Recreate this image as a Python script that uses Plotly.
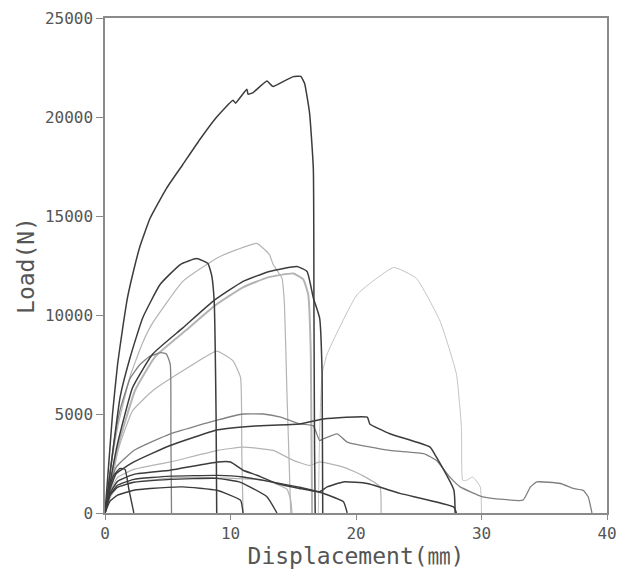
import plotly.graph_objects as go

# ---- tick labels ----
x_ticks = [0, 10, 20, 30, 40]
y_ticks = [0, 5000, 10000, 15000, 20000, 25000]

# ---- curves (displacement mm, load N) ----
d1_x = [0, 0.3, 0.6, 1.0, 1.4, 1.8, 2.3, 2.8, 3.6, 4.9, 6.2, 7.6, 8.9, 10.2, 10.4, 11.3, 11.4, 11.8, 12.9, 13.3, 13.4, 15.0, 15.6, 15.9, 16.3, 16.6, 16.65, 16.7, 16.75]
d1_y = [0, 2500, 5000, 7500, 9300, 10900, 12300, 13500, 14900, 16400, 17600, 18900, 20000, 20850, 20700, 21400, 21150, 21235, 21820, 21570, 21540, 22040, 22050, 21700, 20200, 17400, 10000, 3000, 0]

d2_x = [0, 0.3, 0.7, 1.2, 2.0, 3.0, 4.4, 6.0, 7.3, 8.2, 8.5, 8.7, 8.85, 8.9]
d2_y = [0, 1500, 3500, 5840, 7850, 9850, 11550, 12550, 12850, 12600, 12000, 10700, 5000, 0]

d3_x = [0, 0.4, 1.0, 2.2, 3.8, 6.2, 8.6, 11.0, 13.1, 15.3, 16.1, 16.6, 17.1, 17.3, 17.35]
d3_y = [0, 1500, 3500, 6340, 8030, 9350, 10690, 11700, 12200, 12450, 12200, 10860, 9850, 7000, 0]

m1_x = [0, 0.3, 0.7, 1.2, 2.0, 2.8, 3.6, 4.5, 4.9, 5.2, 5.25, 5.3]
m1_y = [0, 1500, 3500, 5200, 6800, 7510, 7930, 8100, 8020, 7510, 4000, 0]

l1_x = [0, 0.4, 1.0, 2.0, 3.0, 3.8, 6.2, 8.9, 10.5, 12.1, 13.1, 13.4, 14.1, 14.3, 14.5, 14.7, 14.8]
l1_y = [0, 2000, 4300, 6900, 8600, 9600, 11700, 12870, 13300, 13620, 13050, 12550, 11860, 10500, 6000, 2000, 0]

l2_x = [0, 0.5, 1.2, 2.2, 3.8, 6.2, 8.9, 10.2, 10.8, 10.9, 11.0]
l2_y = [0, 1800, 3500, 5170, 6170, 7180, 8180, 7680, 6840, 3000, 0]

l3_x = [17.0, 17.1, 17.3, 17.7, 20.1, 23.0, 24.8, 26.7, 28.0, 28.4, 28.5, 28.8, 29.3, 29.9, 30.0]
l3_y = [0, 4000, 7030, 8030, 11040, 12400, 11860, 9690, 7030, 4330, 1650, 1650, 1820, 1320, 0]

l6_x = [0, 0.5, 1.1, 2.4, 4.0, 6.4, 8.8, 11.0, 13.0, 15.0, 15.8, 16.2, 16.4, 16.5]
l6_y = [0, 1500, 3500, 6200, 7900, 9200, 10500, 11400, 11900, 12100, 11800, 11000, 8000, 0]

a_x = [0, 0.4, 0.9, 2.3, 5.2, 9.0, 11.0, 12.6, 14.0, 15.5, 16.6, 17.1, 17.4, 18.5, 19.3, 22.7, 25.4, 26.4, 27.5, 28.3, 30.1, 33.3, 33.9, 34.4, 36.3, 37.3, 38.1, 38.5, 38.8]
a_y = [0, 1500, 2320, 3160, 4000, 4700, 5000, 5000, 4840, 4500, 4400, 3660, 3750, 4000, 3580, 3160, 3000, 2660, 1800, 1320, 820, 650, 1320, 1570, 1490, 1240, 1150, 820, 0]

d4_x = [0, 0.4, 0.9, 2.3, 5.2, 9.0, 12.0, 15.5, 17.4, 20.9, 21.1, 22.7, 25.9, 26.4, 27.8, 27.9]
d4_y = [0, 1200, 1990, 2580, 3410, 4200, 4400, 4500, 4750, 4840, 4500, 4000, 3330, 2830, 1150, 0]

b_x = [0, 0.5, 1.0, 2.3, 5.2, 9.0, 11.0, 13.4, 15.0, 16.3, 17.1, 19.0, 20.5, 21.9, 22.0]
b_y = [0, 1200, 1800, 2200, 2580, 3160, 3330, 3160, 2660, 2400, 2580, 2320, 1900, 1320, 0]

d5_x = [0, 0.4, 1.0, 2.3, 5.2, 9.0, 10.0, 11.0, 12.1, 13.7, 15.5, 17.1, 17.7, 19.0, 20.9, 23.5, 27.8, 28.0]
d5_y = [0, 1000, 1600, 1950, 2160, 2580, 2580, 2160, 1910, 1490, 1240, 1070, 1320, 1570, 1490, 990, 300, 0]

d6_x = [0, 0.4, 1.0, 2.3, 5.2, 9.0, 11.0, 13.0, 15.5, 17.1, 17.4, 19.0, 19.3]
d6_y = [0, 900, 1400, 1700, 1860, 1900, 1820, 1600, 1300, 1050, 990, 570, 0]

d7_x = [0, 0.4, 1.0, 2.3, 5.2, 8.9, 10.8, 12.9, 13.7]
d7_y = [0, 900, 1300, 1550, 1700, 1750, 1550, 820, 0]

d8_x = [0, 0.4, 1.0, 2.3, 3.6, 6.2, 8.9, 10.8, 11.0]
d8_y = [0, 600, 900, 1150, 1240, 1320, 1150, 650, 0]

l4_x = [0, 0.5, 1.0, 2.3, 5.0, 7.3, 10.2, 12.0, 13.1, 14.5, 14.8, 14.9]
l4_y = [0, 900, 1300, 1550, 1750, 1800, 1750, 1700, 1600, 1200, 650, 0]

d9_x = [0, 0.3, 0.7, 1.2, 1.6, 1.9, 2.3]
d9_y = [0, 1200, 1900, 2250, 2200, 1200, 0]

DARK = "#3c3c3c"
MED = "#808080"
LIGHT = "#b4b4b4"

curves = [
    (l3_x, l3_y, "#c4c4c4", 1.0),
    (l6_x, l6_y, LIGHT, 2.0),
    (l1_x, l1_y, LIGHT, 1.2),
    (l2_x, l2_y, LIGHT, 1.2),
    (l4_x, l4_y, LIGHT, 1.2),
    (b_x, b_y, LIGHT, 1.2),
    (a_x, a_y, MED, 1.3),
    (m1_x, m1_y, MED, 1.3),
    (d8_x, d8_y, DARK, 1.4),
    (d7_x, d7_y, DARK, 1.4),
    (d6_x, d6_y, DARK, 1.4),
    (d5_x, d5_y, DARK, 1.5),
    (d4_x, d4_y, DARK, 1.5),
    (d9_x, d9_y, DARK, 1.4),
    (d3_x, d3_y, DARK, 1.5),
    (d2_x, d2_y, DARK, 1.5),
    (d1_x, d1_y, DARK, 1.5),
]

fig = go.Figure()
for xs, ys, col, w in curves:
    fig.add_trace(go.Scatter(x=xs, y=ys, mode="lines",
                             line=dict(color=col, width=w, shape="spline", smoothing=0.4),
                             showlegend=False, hoverinfo="skip"))

tick_font = dict(family="DejaVu Sans Mono", size=16, color="#555555")
title_font = dict(family="DejaVu Sans Mono, Noto Sans CJK JP", size=23, color="#555555")

# the page body adds an 8px offset, so margins are shifted to keep the plot box in place
fig.update_layout(
    width=627, height=576,
    margin=dict(l=97, r=28, t=10, b=71, autoexpand=False),
    paper_bgcolor="white", plot_bgcolor="white",
    showlegend=False,
)
fig.update_xaxes(
    range=[0, 40], tickvals=x_ticks, ticktext=[str(v) for v in x_ticks],
    showgrid=False, zeroline=False, showline=True, linecolor="#8a8a8a", linewidth=1.5,
    mirror=True, ticks="outside", ticklen=5, tickcolor="#8a8a8a",
    tickfont=tick_font, automargin=False, ticklabeloverflow="allow",
    title=dict(text="Displacement(㎜)", font=title_font, standoff=2),
)
fig.update_yaxes(
    range=[0, 25000], tickvals=y_ticks, ticktext=[str(v) for v in y_ticks],
    showgrid=False, zeroline=False, showline=True, linecolor="#8a8a8a", linewidth=1.5,
    mirror=True, ticks="outside", ticklen=7, tickcolor="#8a8a8a",
    tickfont=tick_font, automargin=False, ticklabeloverflow="allow",
    title=dict(text="Load(N)", font=title_font, standoff=4),
)

fig.write_html("out.html")
